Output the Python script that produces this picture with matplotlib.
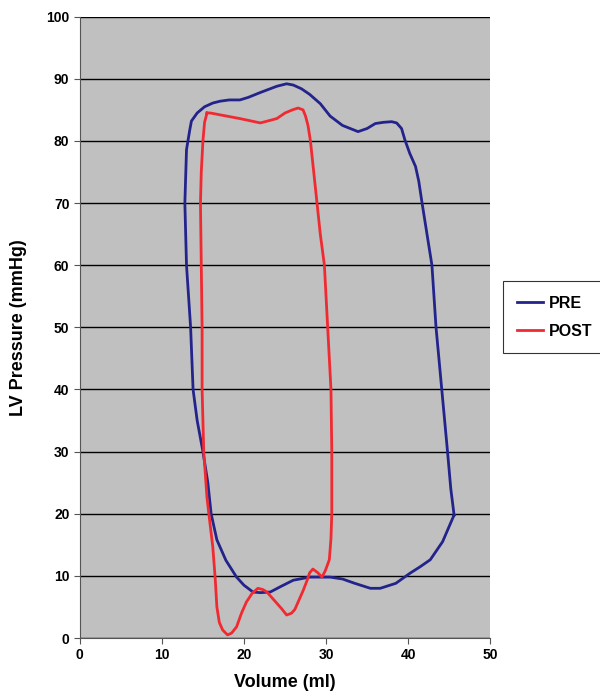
import matplotlib.pyplot as plt

plt.rcParams['font.family'] = ['Liberation Sans', 'DejaVu Sans']

# PRE loop (volume in ml, pressure in mmHg)
pre_vol = [45.6, 45.2, 44.8, 44.1, 43.4, 42.9, 42.3, 41.7, 41.3, 40.9, 40.2, 39.6, 39.2,
           38.6, 38.0, 37.0, 36.0, 35.0, 33.9, 32.0, 30.5, 29.3, 28.0, 27.0, 26.0, 25.2,
           24.0, 22.8, 22.0, 20.5, 19.5, 18.2, 17.1, 16.2, 15.2, 14.3, 13.6, 13.4, 13.0,
           12.8, 12.9, 13.0, 13.5, 13.8, 14.3, 15.0, 15.6, 16.0, 16.7, 17.8, 19.1, 20.0,
           21.1, 22.0, 23.2, 24.5, 26.0, 28.0, 30.5, 32.0, 33.5, 35.4, 36.6, 38.5, 40.2,
           41.5, 42.7, 44.2, 45.6]
pre_p = [19.8, 24.0, 30.0, 40.0, 50.0, 60.0, 65.0, 70.0, 73.5, 75.9, 78.0, 80.2, 82.0,
         82.9, 83.1, 83.0, 82.8, 82.0, 81.5, 82.5, 84.0, 86.0, 87.5, 88.4, 89.0, 89.2,
         88.8, 88.2, 87.8, 87.0, 86.6, 86.6, 86.4, 86.1, 85.5, 84.5, 83.2, 81.8, 78.6,
         70.0, 65.0, 60.0, 50.0, 40.0, 35.0, 30.0, 25.0, 20.0, 15.8, 12.5, 9.8, 8.5,
         7.4, 7.3, 7.4, 8.3, 9.3, 9.8, 9.8, 9.5, 8.8, 8.0, 8.0, 8.8, 10.4,
         11.5, 12.6, 15.5, 19.8]

# POST loop
post_vol = [15.5, 15.2, 15.0, 14.8, 14.7, 14.8, 14.9, 14.9, 15.1, 15.5, 15.9, 16.2,
            16.5, 16.7, 17.0, 17.4, 18.0, 18.5, 19.1, 19.7, 20.3, 21.0, 21.7, 22.3,
            22.8, 23.4, 24.0, 24.6, 25.2, 25.8, 26.2, 26.6, 27.2, 27.7, 28.0, 28.4,
            29.0, 29.5, 29.9, 30.4, 30.6, 30.7, 30.7, 30.6, 30.4, 30.2, 29.8, 29.3,
            28.9, 28.1, 27.8, 27.5, 27.2, 26.6, 25.9, 25.0, 24.0, 22.0, 19.5, 17.1,
            15.9, 15.5]
post_p = [84.5, 83.0, 80.0, 75.0, 70.0, 60.0, 50.0, 40.0, 30.0, 22.5, 18.0, 14.7,
          9.5, 5.0, 2.5, 1.3, 0.5, 0.8, 1.8, 4.0, 5.8, 7.2, 8.0, 7.8,
          7.4, 6.5, 5.6, 4.7, 3.7, 4.0, 4.6, 5.8, 7.6, 9.3, 10.5, 11.1,
          10.5, 9.8, 10.8, 12.6, 16.0, 20.0, 30.0, 40.0, 45.0, 50.0, 60.0, 65.0,
          70.0, 80.0, 82.5, 84.0, 85.0, 85.3, 85.0, 84.5, 83.6, 82.9, 83.6, 84.2,
          84.5, 84.5]

fig = plt.figure(figsize=(6, 6.95), dpi=100)
ax = fig.add_axes([0.133, 0.082, 0.684, 0.894])
ax.set_facecolor('#c0c0c0')

ax.plot(pre_vol, pre_p, color='#23238c', linewidth=2.0, label='PRE')
ax.plot(post_vol, post_p, color='#f02a30', linewidth=2.0, label='POST')

ax.set_xlim(0, 50)
ax.set_ylim(0, 100)
ax.set_xticks(range(0, 51, 10))
ax.set_yticks(range(0, 101, 10))
ax.yaxis.grid(True, color='black', linewidth=1.0)
ax.set_axisbelow(True)
for s in ['top', 'right']:
    ax.spines[s].set_visible(False)
for s in ['left', 'bottom']:
    ax.spines[s].set_color('#555555')
ax.tick_params(direction='out', length=4, color='#555555', labelsize=10)
for lab in ax.get_xticklabels() + ax.get_yticklabels():
    lab.set_fontweight('bold')

ax.set_xlabel('Volume (ml)', fontsize=13, fontweight='bold', labelpad=8)
ax.set_ylabel('LV Pressure (mmHg)', fontsize=13, fontweight='bold', labelpad=14)

leg = fig.legend(loc='upper left', bbox_to_anchor=(0.838, 0.595), fancybox=False,
                 edgecolor='black', handlelength=1.6, handletextpad=0.4,
                 borderpad=0.9, labelspacing=0.8, borderaxespad=0,
                 prop={'weight': 'bold', 'size': 11.5})
leg.get_frame().set_linewidth(0.8)

fig.savefig('out.png', dpi=100)
